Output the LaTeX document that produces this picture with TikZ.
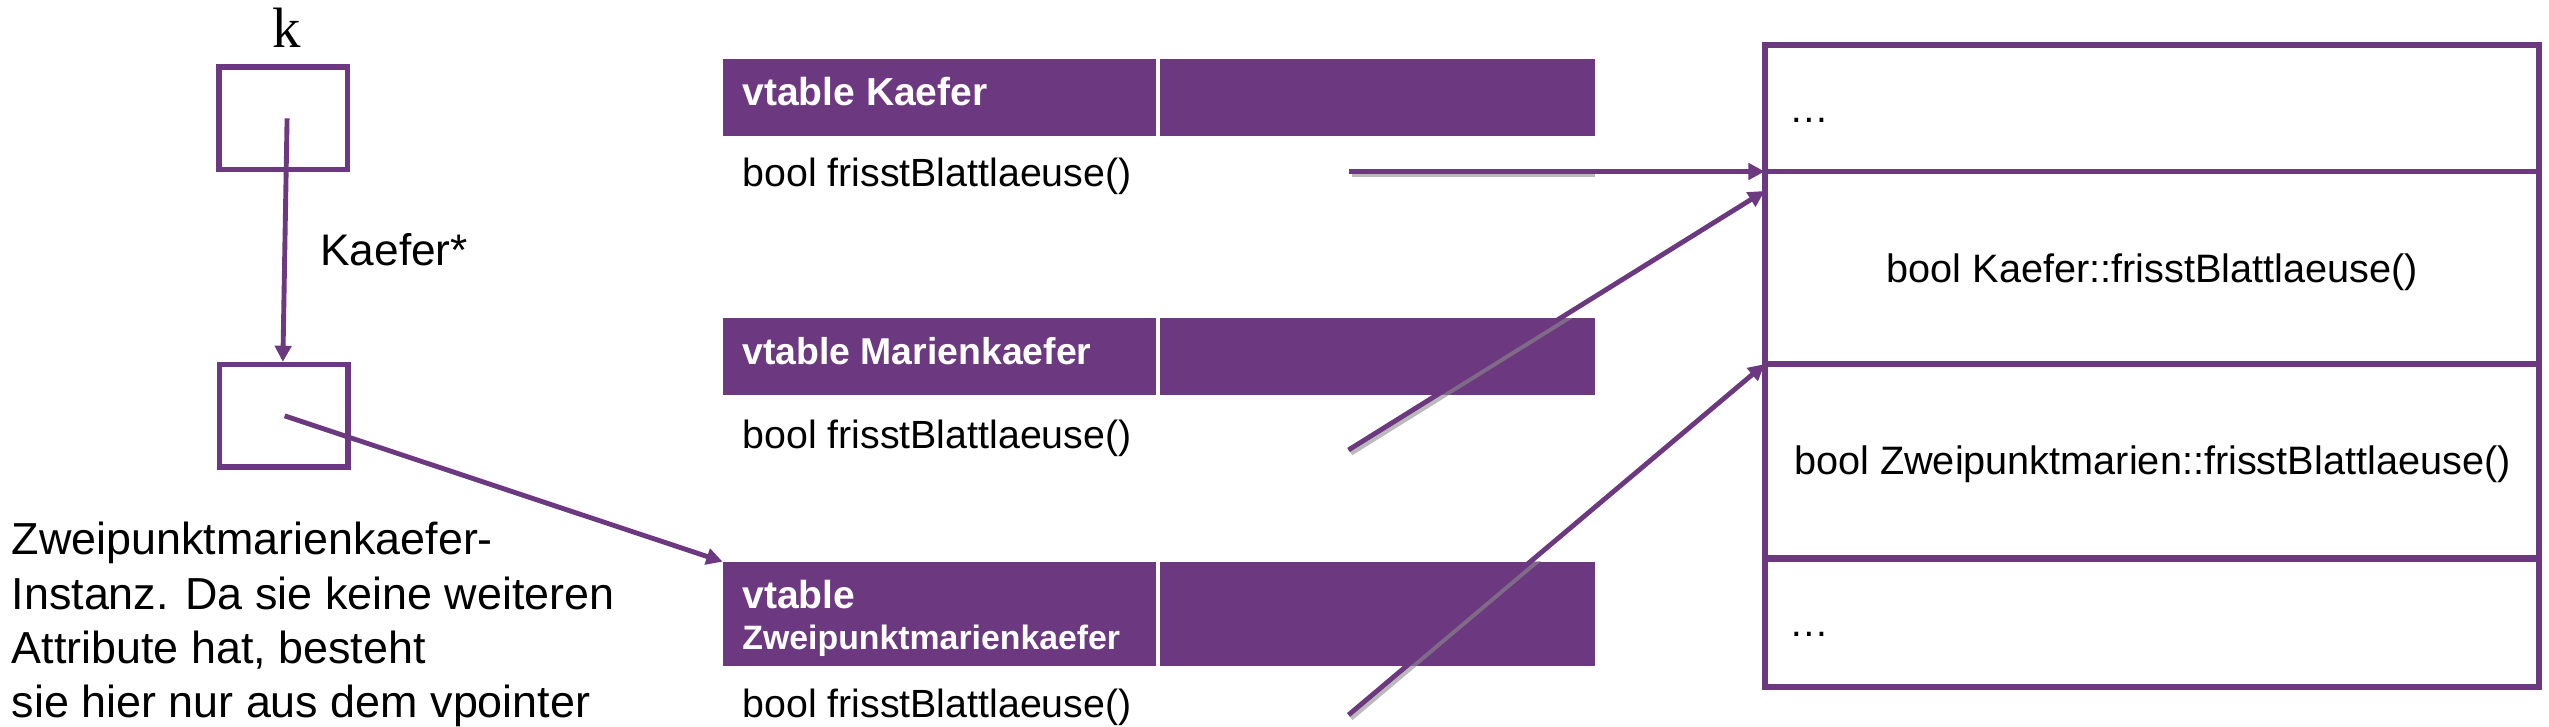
\documentclass[tikz,border=0pt]{standalone}
\usepackage{fontspec}
\setmainfont{Liberation Sans}
\newfontfamily\kserif{Liberation Serif}
\usetikzlibrary{arrows.meta}
\definecolor{lila}{RGB}{108,57,128}
\begin{document}
\begin{tikzpicture}[x=1pt,y=-1pt,
  ptrbox/.style={draw=lila,line width=3.3pt,minimum width=79pt,minimum height=63pt,inner sep=0pt},
  arr/.style={draw=lila,line width=3pt,-{Triangle[length=10pt,width=10pt]}},
  shadowline/.style={draw=black!45,line width=3pt,opacity=0.6},
  header/.style={fill=lila,minimum width=536.5pt,inner sep=0pt,outer sep=0pt,anchor=north west},
  sep/.style={draw=white,line width=2.5pt},
  htext/.style={text=white,font=\bfseries\fontsize{24}{28}\selectfont,inner sep=0pt,anchor=base west},
  ftext/.style={font=\fontsize{24.2}{28}\selectfont,inner sep=0pt,anchor=base west},
  ptext/.style={font=\fontsize{27.6}{33}\selectfont,inner sep=0pt,anchor=base west},
  cell/.style={draw=lila,line width=3.6pt,minimum width=476.5pt,inner sep=0pt,outer sep=0pt,anchor=north west},
  ctext/.style={font=\fontsize{24.4}{28}\selectfont,inner sep=0pt,anchor=base}
]
\useasboundingbox (0,0) rectangle (1568,446.6);

% left: pointer k and instance
\node[font=\kserif\fontsize{35}{40}\selectfont,inner sep=0pt,anchor=base] (klabel) at (176.3,29) {k};
\node[ptrbox] (kbox) at (174.3,72.8) {};
\node[ptrbox] (obj) at (174.5,255.8) {};
\node[font=\fontsize{27.2}{32}\selectfont,inner sep=0pt,anchor=base west] (ktype) at (196.9,163.5) {Kaefer*};

\node[ptext] (p1) at (7,341.4) {Zweipunktmarienkaefer-};
\node[ptext] (p2) at (7,375.2) {Instanz. Da sie keine weiteren};
\node[ptext] (p3) at (7,408.2) {Attribute hat, besteht};
\node[ptext] (p4) at (7,441.2) {sie hier nur aus dem vpointer};

% vtables
\node[header,minimum height=47.2pt] (h1) at (444.5,36.3) {};
\node[header,minimum height=47.2pt] (h2) at (444.5,195.8) {};
\node[header,minimum height=64pt] (h3) at (444.5,345.5) {};
\draw[sep] (712.4,36.3) -- (712.4,83.5);
\draw[sep] (712.4,195.8) -- (712.4,243);
\draw[sep] (712.4,345.5) -- (712.4,409.5);
\node[htext] (h1t) at (456.5,64.8) {vtable Kaefer};
\node[htext,font=\bfseries\fontsize{23}{28}\selectfont] (h2t) at (456.5,224.5) {vtable Marienkaefer};
\node[htext] (h3t) at (456.5,374.5) {vtable};
\node[htext,font=\bfseries\fontsize{20.8}{24}\selectfont] (h3u) at (456.5,399.5) {Zweipunktmarienkaefer};

\node[ftext] (f1) at (456.5,114.8) {bool frisstBlattlaeuse()};
\node[ftext] (f2) at (456.5,275.8) {bool frisstBlattlaeuse()};
\node[ftext] (f3) at (456.5,441.2) {bool frisstBlattlaeuse()};

% memory column
\node[cell,minimum height=78pt] (c1) at (1085.5,27.5) {};
\node[cell,minimum height=118.5pt] (c2) at (1085.5,105.5) {};
\node[cell,minimum height=119.5pt] (c3) at (1085.5,224) {};
\node[cell,minimum height=79pt] (c4) at (1085.5,343.5) {};
\draw[draw=lila,line width=4.5pt] (c4.north west) -- (c4.north east);
\node[ctext,anchor=base west] (d1) at (1100.6,75.5) {…};
\node[ctext] (m1) at (1324,173.7) {bool Kaefer::frisstBlattlaeuse()};
\node[ctext] (m2) at (1324,291.9) {bool Zweipunktmarien::frisstBlattlaeuse()};
\node[ctext,anchor=base west] (d2) at (1100.6,391.6) {…};

% connectors
\coordinate (s1) at (830,105.5);
\coordinate (s2) at (829.5,276.8);
\coordinate (s3) at (829.5,439.8);
\coordinate (t2) at (1085.5,117.5);

\begin{scope}
\clip (0,36.3) rectangle (981,446.6);
\draw[shadowline] ([shift={(1.5pt,-2pt)}]s1) -- ([shift={(1.5pt,-2pt)}]c2.north west);
\end{scope}
\begin{scope}
\clip (0,195.8) rectangle (981,446.6);
\draw[shadowline] ([shift={(1.5pt,-2pt)}]s2) -- ([shift={(1.5pt,-2pt)}]t2);
\end{scope}
\begin{scope}
\clip (0,345.5) rectangle (981,446.6);
\draw[shadowline] ([shift={(1.5pt,-2pt)}]s3) -- ([shift={(1.5pt,-2pt)}]c3.north west);
\end{scope}

\draw[arr] ([xshift=2.3pt]kbox.center) -- ([xshift=-0.5pt]obj.north);
\draw[arr] ([xshift=0.6pt]obj.center) -- (h3.north west);
\draw[arr] (s1) -- (c2.north west);
\draw[arr] (s2) -- (t2);
\draw[arr] (s3) -- (c3.north west);
\end{tikzpicture}
\end{document}
